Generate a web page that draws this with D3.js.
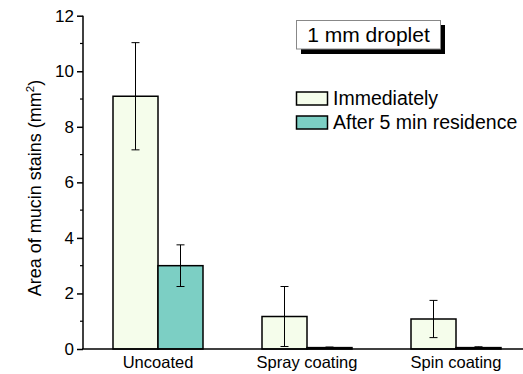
<!DOCTYPE html>
<html><head><meta charset="utf-8">
<script src="https://cdn.jsdelivr.net/npm/d3@7"></script>
<style>body{margin:0;background:#fff}svg{display:block;font-family:"Liberation Sans",Arial,sans-serif}</style>
</head><body><svg id="c" width="523" height="374"></svg>
<script>
const categories = ["Uncoated", "Spray coating", "Spin coating"];
const seriesNames = ["Immediately", "After 5 min residence"];
const immediately = [9.1, 1.17, 1.08];
const immediatelyErr = [1.93, 1.08, 0.67];
const after5min = [3.0, 0.05, 0.05];
const after5minErr = [0.75, 0.02, 0.03];
const yTicks = [0, 2, 4, 6, 8, 10, 12];
const colors = ["#f5fdeb", "#7ccfc4"];

const svg = d3.select("#c");
const x = d3.scaleBand().domain(categories).range([83.5, 530.5]).paddingInner(0).paddingOuter(0);
const y = d3.scaleLinear().domain([0, 12]).range([349, 15.7]);
const barW = 45;

const series = [
  {name: seriesNames[0], vals: immediately, err: immediatelyErr, color: colors[0], off: -barW},
  {name: seriesNames[1], vals: after5min, err: after5minErr, color: colors[1], off: 0}
];

series.forEach(s => {
  categories.forEach((c, i) => {
    const cx = x(c) + x.bandwidth() / 2;
    const v = s.vals[i];
    svg.append("rect").attr("x", cx + s.off).attr("width", barW)
      .attr("y", y(v)).attr("height", y(0) - y(v))
      .attr("fill", s.color).attr("stroke", "#000").attr("stroke-width", 1.5);
  });
});
series.forEach(s => {
  categories.forEach((c, i) => {
    const ex = x(c) + x.bandwidth() / 2 + s.off + barW / 2;
    const v = s.vals[i], e = s.err[i];
    const g = svg.append("g").attr("stroke", "#000").attr("stroke-width", 1);
    g.append("line").attr("x1", ex).attr("x2", ex).attr("y1", y(v + e)).attr("y2", y(v - e));
    g.append("line").attr("x1", ex - 4).attr("x2", ex + 4).attr("y1", y(v + e)).attr("y2", y(v + e));
    g.append("line").attr("x1", ex - 4).attr("x2", ex + 4).attr("y1", y(v - e)).attr("y2", y(v - e));
  });
});

// y axis
const yAxis = d3.axisLeft(y).tickValues(yTicks).tickSize(6).tickPadding(3).tickFormat(d3.format("d"));
const ya = svg.append("g").attr("transform", "translate(83,0)").call(yAxis);
ya.select(".domain").attr("stroke-width", 1.5).attr("d", `M0,${y(12)}V${y(0)}`);
ya.selectAll(".tick line").attr("stroke-width", 1.5);
ya.selectAll("text").attr("font-size", 17).attr("font-family", "Liberation Sans, Arial, sans-serif").attr("fill", "#000");
const minor = d3.range(1, 12, 2);
svg.append("g").selectAll("line").data(minor).join("line")
  .attr("x1", 80).attr("x2", 83).attr("y1", d => y(d)).attr("y2", d => y(d))
  .attr("stroke", "#000").attr("stroke-width", 1.2);

// x axis
const xAxis = d3.axisBottom(x).tickSize(0).tickPadding(7);
const xa = svg.append("g").attr("transform", `translate(0,${y(0)})`).call(xAxis);
xa.select(".domain").attr("stroke-width", 1.5).attr("d", "M82,0H523");
xa.selectAll("text").attr("font-size", 16.5).attr("font-family", "Liberation Sans, Arial, sans-serif").attr("fill", "#000");

// y title
const yt = svg.append("text").attr("transform", "translate(41,188) rotate(-90)")
  .attr("text-anchor", "middle").attr("font-size", 18).attr("fill", "#000");
yt.append("tspan").text("Area of mucin stains (mm");
yt.append("tspan").attr("font-size", 11.5).attr("dy", -7.5).text("2");
yt.append("tspan").attr("dy", 7.5).text(")");

// annotation box
svg.append("rect").attr("x", 301).attr("y", 25).attr("width", 144).attr("height", 29).attr("fill", "#000");
svg.append("rect").attr("x", 296.5).attr("y", 20.5).attr("width", 144).attr("height", 28.5)
  .attr("fill", "#fff").attr("stroke", "#888").attr("stroke-width", 1);
svg.append("text").attr("x", 368.5).attr("y", 42).attr("text-anchor", "middle")
  .attr("font-size", 21).attr("fill", "#000").text("1 mm droplet");

// legend
series.forEach((s, i) => {
  const ly = 92 + i * 24;
  svg.append("rect").attr("x", 296.5).attr("y", ly).attr("width", 31).attr("height", 13)
    .attr("fill", s.color).attr("stroke", "#000").attr("stroke-width", 1.5);
  svg.append("text").attr("x", 333).attr("y", ly + 13).attr("font-size", 19.5).attr("fill", "#000").text(s.name);
});
</script></body></html>
